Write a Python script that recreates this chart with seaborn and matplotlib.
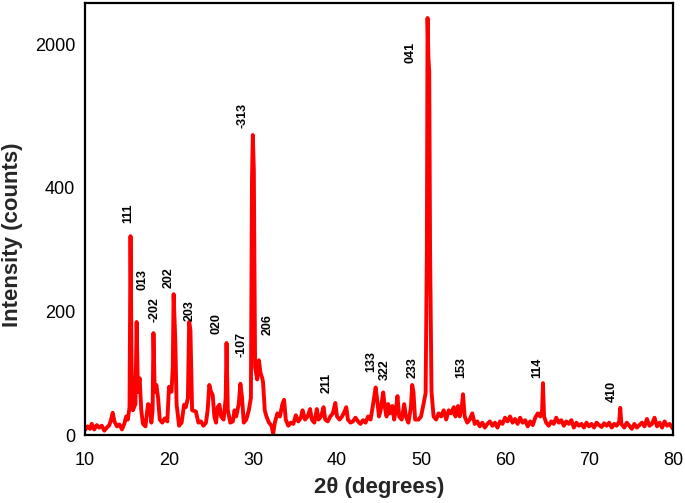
import numpy as np
import pandas as pd
import matplotlib; matplotlib.use('Agg')
import matplotlib.pyplot as plt
import seaborn as sns

# XRD pattern (2theta in degrees, intensity in counts)
two_theta = [
    10.0, 10.3, 10.6, 10.8, 11.1, 11.4, 11.7, 12.0, 12.3, 12.6,
    12.9, 13.1, 13.3, 13.5, 13.8, 14.1, 14.4, 14.7, 14.9, 15.1,
    15.3, 15.42, 15.55, 15.7, 16.0, 16.15, 16.3, 16.5, 16.7, 16.9,
    17.2, 17.5, 17.7, 17.9, 18.05, 18.15, 18.3, 18.5, 18.7, 18.9,
    19.2, 19.5, 19.8, 20.0, 20.3, 20.45, 20.55, 20.75, 20.9, 21.2,
    21.5, 21.8, 22.0, 22.25, 22.4, 22.55, 22.75, 23.2, 23.5, 23.8,
    24.1, 24.4, 24.6, 24.8, 25.0, 25.2, 25.4, 25.6, 25.8, 26.0,
    26.2, 26.5, 26.75, 26.85, 27.0, 27.3, 27.6, 27.8, 28.0, 28.3,
    28.5, 28.7, 28.9, 29.2, 29.5, 29.75, 29.88, 29.98, 30.1, 30.25,
    30.5, 30.7, 30.9, 31.1, 31.2, 31.4, 31.6, 31.9, 32.2, 32.4,
    32.6, 32.9, 33.2, 33.5, 33.7, 33.9, 34.2, 34.5, 34.8, 35.1,
    35.4, 35.7, 35.9, 36.2, 36.5, 36.8, 37.0, 37.3, 37.6, 37.8,
    38.1, 38.4, 38.6, 38.9, 39.2, 39.5, 39.8, 40.0, 40.3, 40.6,
    40.9, 41.1, 41.3, 41.6, 41.9, 42.2, 42.5, 42.8, 43.1, 43.4,
    43.7, 44.0, 44.3, 44.6, 44.8, 45.0, 45.2, 45.5, 45.7, 45.9,
    46.1, 46.3, 46.6, 46.8, 47.0, 47.2, 47.4, 47.7, 48.0, 48.2,
    48.5, 48.8, 48.95, 49.1, 49.3, 49.7, 50.0, 50.3, 50.55, 50.7,
    50.78, 50.88, 50.98, 51.08, 51.25, 51.5, 51.8, 52.1, 52.4, 52.7,
    53.0, 53.3, 53.6, 53.9, 54.1, 54.4, 54.6, 54.85, 55.0, 55.2,
    55.5, 55.8, 56.1, 56.4, 56.7, 57.0, 57.3, 57.6, 57.9, 58.2,
    58.5, 58.8, 59.1, 59.4, 59.7, 60.0, 60.3, 60.6, 60.9, 61.2,
    61.5, 61.8, 62.1, 62.4, 62.7, 63.0, 63.3, 63.6, 63.9, 64.2,
    64.42, 64.52, 64.65, 64.9, 65.2, 65.5, 65.8, 66.1, 66.4, 66.7,
    67.0, 67.3, 67.6, 67.9, 68.2, 68.5, 68.8, 69.1, 69.4, 69.7,
    70.0, 70.3, 70.6, 70.9, 71.2, 71.5, 71.8, 72.1, 72.4, 72.7,
    73.0, 73.3, 73.6, 73.72, 73.85, 74.2, 74.5, 74.8, 75.1, 75.4,
    75.7, 76.0, 76.3, 76.6, 76.9, 77.2, 77.5, 77.8, 78.1, 78.4,
    78.7, 79.0, 79.3, 79.6, 80.0,
]
counts = [
    8, 14, 10, 18, 9, 16, 12, 15, 7, 12,
    16, 25, 36, 22, 14, 17, 9, 19, 30, 25,
    45, 322, 110, 40, 50, 183, 70, 92, 40, 18,
    14, 50, 48, 20, 40, 165, 70, 81, 60, 25,
    20, 27, 22, 78, 70, 110, 228, 154, 50, 15,
    20, 49, 45, 60, 183, 170, 40, 38, 20, 22,
    15, 20, 40, 81, 70, 65, 30, 20, 45, 49,
    30, 25, 60, 149, 40, 20, 22, 40, 30, 50,
    83, 60, 20, 25, 40, 60, 500, 993, 600, 110,
    90, 121, 100, 92, 85, 40, 30, 20, 15, 2,
    20, 35, 30, 50, 57, 25, 15, 20, 18, 32,
    22, 28, 40, 25, 30, 42, 25, 20, 42, 25,
    30, 45, 25, 22, 30, 35, 52, 30, 25, 30,
    38, 45, 25, 20, 22, 28, 22, 18, 24, 20,
    30, 25, 50, 77, 55, 30, 40, 69, 45, 30,
    50, 35, 47, 25, 40, 63, 30, 25, 50, 30,
    20, 45, 81, 70, 25, 25, 30, 50, 68, 300,
    2302, 1866, 1700, 300, 70, 30, 25, 35, 30, 40,
    25, 40, 35, 45, 30, 47, 30, 45, 66, 30,
    20, 25, 35, 18, 22, 14, 20, 12, 18, 22,
    15, 20, 12, 22, 18, 28, 22, 30, 20, 26,
    18, 28, 20, 24, 14, 22, 16, 28, 35, 30,
    40, 84, 30, 20, 15, 22, 18, 28, 20, 24,
    15, 22, 18, 24, 12, 20, 15, 18, 12, 20,
    14, 18, 12, 20, 16, 13, 19, 15, 20, 12,
    18, 15, 22, 44, 18, 12, 20, 15, 10, 18,
    12, 16, 20, 14, 26, 15, 18, 28, 14, 20,
    12, 22, 15, 18, 10,
]

# Miller index labels and where they sit (2theta, counts at label base)
hkl_labels = ['111', '013', '-202', '202', '203', '020', '-107', '-313', '206',
              '211', '133', '322', '233', '041', '153', '114', '410']
hkl_x = [15.1, 16.8, 18.3, 20.0, 22.4, 25.6, 28.6, 28.8, 31.8,
         38.8, 44.05, 45.7, 49.0, 48.7, 54.8, 63.8, 72.7]
hkl_y = [343, 235, 183, 238, 185, 164, 126, 1071, 162,
         68, 102, 89, 92, 1799, 92, 92, 53]

y_ticks = [0, 200, 400, 2000]
x_ticks = [10, 20, 30, 40, 50, 60, 70, 80]

# intensity axis: linear up to 400, compressed above
BREAK, K = 400, 0.1447
def fwd(y):
    y = np.asarray(y, float)
    return np.where(y <= BREAK, y, BREAK + (y - BREAK) * K)
def inv(y):
    y = np.asarray(y, float)
    return np.where(y <= BREAK, y, BREAK + (y - BREAK) / K)

sns.set_style('white')
plt.rcParams['font.family'] = ['Liberation Sans', 'DejaVu Sans']

df = pd.DataFrame({'two_theta': two_theta, 'counts': counts})

fig = plt.figure(figsize=(6.85, 5.03), dpi=100)
ax = fig.add_axes([85/685, 1 - 435/503, 588/685, 432/503])
sns.lineplot(data=df, x='two_theta', y='counts', ax=ax, color='#FF0000',
             lw=2.8, estimator=None, sort=False)

ax.set_yscale('function', functions=(fwd, inv))
ax.set_xlim(10, 80)
ax.set_ylim(0, 2470)
ax.set_xticks(x_ticks)
ax.set_yticks(y_ticks)
ax.set_xticklabels([str(t) for t in x_ticks])
ax.set_yticklabels([str(t) for t in y_ticks])
ax.tick_params(axis='both', length=0, labelsize=13, colors='black')
ax.tick_params(axis='x', pad=12)
ax.tick_params(axis='y', pad=7)

for s in ax.spines.values():
    s.set_visible(True); s.set_color('black'); s.set_linewidth(1.6)

for lab, x, y in zip(hkl_labels, hkl_x, hkl_y):
    ax.text(x, y, lab, rotation=90, ha='center', va='bottom',
            fontsize=9, fontweight='bold', color='black')

ax.set_xlabel('2θ (degrees)', fontsize=16, fontweight='bold', labelpad=6)
ax.set_ylabel('Intensity (counts)', fontsize=16, fontweight='bold')
ax.yaxis.set_label_coords(-0.105, 0.463)

fig.savefig('out.png', dpi=100)
